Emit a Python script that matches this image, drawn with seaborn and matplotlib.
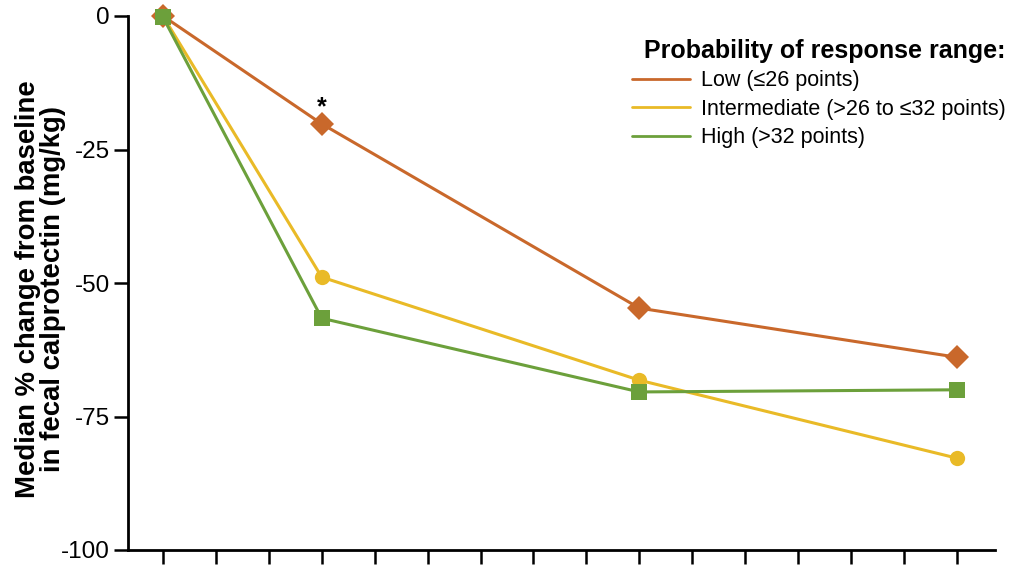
import matplotlib
matplotlib.use("Agg")
import matplotlib.pyplot as plt
import seaborn as sns
import pandas as pd
from matplotlib.lines import Line2D

sns.set_theme(style="white")
plt.rcParams['font.family'] = ['Liberation Sans', 'DejaVu Sans']
plt.rcParams['text.color'] = 'black'
plt.rcParams['axes.labelcolor'] = 'black'
plt.rcParams['xtick.color'] = 'black'
plt.rcParams['ytick.color'] = 'black'

weeks = [0, 3, 9, 15]
groups = ["Low (≤26 points)", "Intermediate (>26 to ≤32 points)", "High (>32 points)"]
low_vals = [0.0, -20.2, -54.7, -63.9]
inter_vals = [0.0, -48.9, -68.2, -82.8]
high_vals = [-0.2, -56.6, -70.4, -70.0]
colors = ["#C9682B", "#E9BA27", "#6CA03B"]
markers = ["D", "o", "s"]
msizes = [12, 11, 11]

rows = []
for g, vals in zip(groups, [low_vals, inter_vals, high_vals]):
    for w, v in zip(weeks, vals):
        rows.append({"week": w, "value": v, "group": g})
df = pd.DataFrame(rows)

fig = plt.figure(figsize=(10.14, 5.65), dpi=100)
ax = fig.add_axes([128/1014, 15/565, (995-128)/1014, (550-16)/565])

for g, c, m, ms in zip(groups, colors, markers, msizes):
    sub = df[df["group"] == g]
    sns.lineplot(data=sub, x="week", y="value", ax=ax, color=c, linewidth=2.2,
                 marker=m, markersize=ms, markeredgewidth=0, markeredgecolor=c,
                 clip_on=False, zorder=3, legend=False)

ax.set_xlim(-0.66, 15.72)
ax.set_ylim(-100, 0)
ax.set_xticks(range(16))
ax.set_xticklabels([])
ax.set_yticks([0, -25, -50, -75, -100])
ax.set_yticklabels(["0", "-25", "-50", "-75", "-100"])
for s in ["top", "right"]:
    ax.spines[s].set_visible(False)
for s in ["left", "bottom"]:
    ax.spines[s].set_color("black")
    ax.spines[s].set_linewidth(2)
ax.tick_params(axis="both", direction="out", length=10, width=1.8, color="black",
               labelsize=17.5, labelcolor="black", left=True, bottom=True, pad=3)
ax.set_xlabel("")
ax.set_ylabel("Median % change from baseline\nin fecal calprotectin (mg/kg)",
              fontsize=19.8, fontweight="bold", linespacing=0.95, color="black")
ax.yaxis.set_label_coords(-0.0715, 0.489)

ax.text(3, -18.5, "*", ha="center", va="baseline", fontsize=18, fontweight="bold",
        color="black")

handles = [Line2D([0], [0], color=c, lw=2) for c in colors]
leg = ax.legend(handles, groups, title="Probability of response range:",
                loc="upper right", bbox_to_anchor=(1.03, 0.985), frameon=False,
                fontsize=15.5, title_fontproperties={"weight": "bold", "size": 18},
                handlelength=2.7, labelspacing=0.34, handletextpad=0.5,
                borderpad=0.2)
leg._legend_box.align = "right"
for t in leg.get_texts():
    t.set_color("black")
leg.get_title().set_color("black")

fig.savefig("out.png", dpi=100)
